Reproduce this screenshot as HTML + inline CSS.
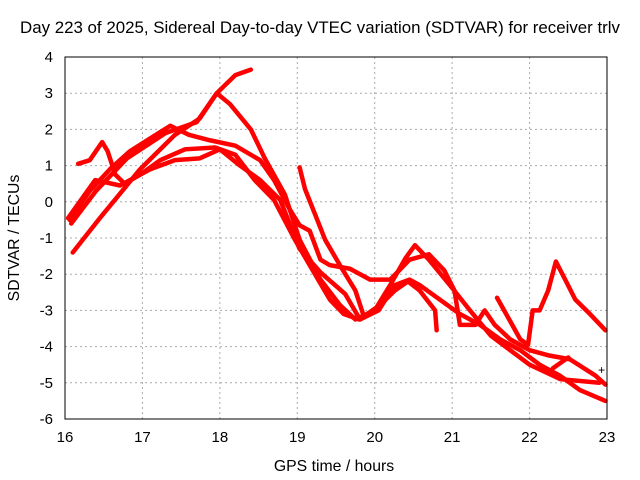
<!DOCTYPE html>
<html><head><meta charset="utf-8"><style>
body{margin:0;background:#fff;}
svg{display:block;font-family:"Liberation Sans",sans-serif;}
</style></head><body>
<svg id="chart" width="640" height="480" viewBox="0 0 640 480">
<rect width="640" height="480" fill="#fff"/>
<text x="320" y="33" text-anchor="middle" font-size="16.3" textLength="600" lengthAdjust="spacingAndGlyphs">Day 223 of 2025, Sidereal Day-to-day VTEC variation (SDTVAR) for receiver trlv</text>
<text x="334" y="471" text-anchor="middle" font-size="15.8">GPS time / hours</text>
<text transform="translate(19,238) rotate(-90)" text-anchor="middle" font-size="15.8">SDTVAR / TECUs</text>
<g id="grid"></g><g id="series"></g>
<rect x="65" y="57" width="542" height="362" fill="none" stroke="#000" stroke-width="1"/>
<g id="ticks"></g>
</svg>
<script>
const xTicks=[16,17,18,19,20,21,22,23];
const yTicks=[4,3,2,1,0,-1,-2,-3,-4,-5,-6];
const trackA=[[16.1,-1.4],[16.45,-0.45],[16.97,0.9],[17.42,1.85],[17.74,2.3],[17.96,3.0],[18.2,3.5],[18.4,3.65]];
const trackB=[[16.08,-0.6],[16.4,0.3],[16.8,1.2],[17.3,1.9],[17.7,2.2],[17.96,3.0],[18.13,2.7],[18.4,2.0],[18.58,1.2],[18.84,0.2],[19.03,-1.05],[19.3,-2.15],[19.55,-2.85],[19.75,-3.25],[20,-3],[20.2,-2.3],[20.4,-1.55],[20.52,-1.2],[20.7,-1.6],[20.97,-2.3],[21.23,-3],[21.5,-3.7],[21.75,-4.1],[22,-4.5],[22.4,-4.9],[22.9,-5]];
const trackC=[[16.17,1.05],[16.32,1.15],[16.48,1.65],[16.55,1.4],[16.65,0.75],[16.77,0.5],[16.97,0.75],[17.23,1.15],[17.55,1.45],[17.94,1.5],[18.2,1.3],[18.45,0.6],[18.7,0.05],[18.97,-1.05],[19.16,-1.75],[19.42,-2.7],[19.6,-3.1],[19.8,-3.25],[20.07,-2.85],[20.26,-2.45],[20.43,-2.2],[20.58,-2.45],[20.78,-3],[20.8,-3.55]];
const trackD=[[16.06,-0.5],[16.32,0.3],[16.58,0.9],[16.84,1.4],[17.1,1.75],[17.36,2.1],[17.6,1.85],[17.87,1.7],[18.2,1.55],[18.52,1.15],[18.7,0.6],[18.9,-0.2],[19.03,-0.65],[19.16,-0.8],[19.3,-1.6],[19.42,-1.75],[19.68,-1.85],[19.94,-2.15],[20.2,-2.15],[20.45,-1.6],[20.7,-1.45],[20.9,-1.9],[21.03,-2.45],[21.1,-3.4],[21.3,-3.4],[21.42,-3],[21.55,-3.4],[21.75,-3.8],[22,-4.1],[22.26,-4.25],[22.52,-4.35],[22.85,-4.8],[22.98,-5.05]];
const trackE=[[19.03,0.95],[19.1,0.35],[19.23,-0.35],[19.36,-1.05],[19.55,-1.75],[19.75,-2.45],[19.85,-3.1]];
const trackF=[[21.58,-2.65],[21.75,-3.3],[21.88,-3.8],[21.98,-3.95],[22.04,-3],[22.13,-3],[22.24,-2.45],[22.34,-1.65],[22.46,-2.15],[22.59,-2.7],[22.78,-3.1],[22.98,-3.55]];
const trackG=[[16.04,-0.45],[16.39,0.6],[16.71,0.45],[17.1,0.9],[17.42,1.15],[17.74,1.2],[18.0,1.45],[18.26,1.0],[18.52,0.6],[18.78,0.05],[19.03,-1.3],[19.3,-1.95],[19.62,-2.55],[19.81,-3.25],[20.05,-3.0],[20.26,-2.3],[20.45,-2.15],[20.58,-2.3],[20.84,-2.7],[21.1,-3.1],[21.36,-3.4],[21.62,-3.8],[21.88,-4.1],[22.13,-4.5],[22.39,-4.8],[22.65,-5.2],[22.98,-5.5]];
const trackH=[[22.3,-4.6],[22.5,-4.3]];
const tracks=[trackA,trackB,trackC,trackD,trackE,trackF,trackG,trackH];
const X=v=>65+(v-16)*542/7, Y=v=>57+(4-v)*362/10;
const NS="http://www.w3.org/2000/svg";
const grid=document.getElementById('grid'),ticks=document.getElementById('ticks'),ser=document.getElementById('series');
function mk(tag,at,p){const e=document.createElementNS(NS,tag);for(const k in at)e.setAttribute(k,at[k]);p.appendChild(e);return e;}
xTicks.forEach(t=>{
 const l=mk('line',{x1:X(t),x2:X(t),y1:57,y2:419,stroke:'#aaa','stroke-dasharray':'2,3','stroke-width':1},grid);
 
 
 const tx=mk('text',{x:X(t),y:442,'text-anchor':'middle','font-size':15},ticks);
 
 
 tx.textContent=t;
});
yTicks.forEach(t=>{
 const l=mk('line',{x1:65,x2:607,y1:Y(t),y2:Y(t),stroke:'#aaa','stroke-dasharray':'2,3','stroke-width':1},grid);
 
 
 const tx=mk('text',{x:53,y:Y(t)+5,'text-anchor':'end','font-size':15},ticks);
 
 
 tx.textContent=t;
});
tracks.forEach(tr=>{
 const p=mk('polyline',{points:tr.map(d=>X(d[0])+','+Y(d[1])).join(' '),fill:'none',stroke:'#f00','stroke-width':4.5,'stroke-linejoin':'round','stroke-linecap':'round'},ser);
 
 
});
const lone=mk('text',{x:X(22.93),y:Y(-4.65)+4,'text-anchor':'middle','font-size':12,fill:'#000'},ser);


lone.textContent='+';
</script>
</body></html>
